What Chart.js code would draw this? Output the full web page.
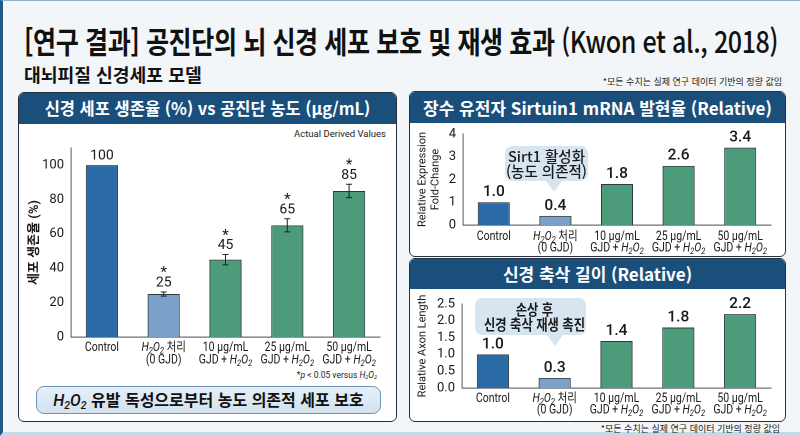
<!DOCTYPE html>
<html lang="ko">
<head>
<meta charset="utf-8">
<script src="https://cdn.jsdelivr.net/npm/chart.js@4.4.1/dist/chart.umd.min.js"></script>
<style>
  html, body { margin: 0; padding: 0; }
  body { width: 800px; height: 436px; overflow: hidden; font-family: Roboto, "Noto Sans CJK KR", sans-serif; }
  #page { position: relative; width: 800px; height: 436px; background: #f3f6f9; border-left: 3px solid #1f5a8a; border-top: 1px solid #8fb0cc; border-bottom: 4px solid #c6d9e8; box-sizing: border-box; }
  .abs { position: absolute; white-space: nowrap; }
  #title { left: 21px; top: 17px; font-family: "Noto Sans CJK KR", sans-serif; font-size: 30px; font-weight: 700; color: #111; transform-origin: left top; letter-spacing: -0.5px; }
  #title .lat { font-family: "Noto Sans CJK KR", sans-serif; font-weight: 500; }
  #subtitle { left: 21px; top: 60px; font-family: "Noto Sans CJK KR", sans-serif; font-size: 18px; font-weight: 700; color: #111; transform-origin: left top; }
  .note { font-family: "Noto Sans CJK KR", sans-serif; font-size: 9px; color: #222; }
  .panel { position: absolute; background: #fff; border: 1.5px solid #26313d; border-radius: 6px; box-sizing: border-box; overflow: hidden; }
  .head { position: absolute; left: 0; top: 0; right: 0; background: #1b4f7b; color: #fff; text-align: center; font-family: "Noto Sans CJK KR", sans-serif; font-weight: 700; }
  canvas { position: absolute; }
  .callout { position: absolute; background: #d7e5f1; border-radius: 7px; text-align: center; font-family: "Noto Sans CJK KR", sans-serif; font-weight: 500; font-size: 14.5px; line-height: 15px; color: #1a1a1a; white-space: nowrap; box-sizing: border-box; }
  .callout span { display: inline-block; transform: scaleX(var(--sq)); }
  .callout::after { content: ""; position: absolute; left: var(--tip); bottom: -11px; margin-left: -8px; border-left: 8px solid transparent; border-right: 8px solid transparent; border-top: 11px solid #d7e5f1; }
  #box { left: 33px; top: 385px; width: 345px; height: 28px; border: 1.5px solid #6b95bd; border-radius: 8px; box-sizing: border-box; background: linear-gradient(#e6eff7, #d3e2ef); text-align: center; font-family: "Noto Sans CJK KR", sans-serif; font-weight: 700; font-size: 16px; line-height: 25px; color: #111; }
  i { font-family: Roboto, sans-serif; }
  sub { font-size: 0.65em; vertical-align: -0.25em; }
</style>
</head>
<body>
<div id="page">
  <div id="title" class="abs">[연구 결과] 공진단의 뇌 신경 세포 보호 및 재생 효과 <span class="lat">(Kwon et al., 2018)</span></div>
  <div id="subtitle" class="abs">대뇌피질 신경세포 모델</div>
  <div class="abs note" style="right:18px; top:74px;">*모든 수치는 실제 연구 데이터 기반의 정량 값임</div>

  <div class="panel" style="left:15px; top:91px; width:379px; height:330px;">
    <div class="head" style="height:31px; line-height:31px; font-size:16.5px;">신경 세포 생존율 (%) vs 공진단 농도 (μg/mL)</div>
  </div>
  <div class="abs" style="right:414px; top:127px; font-size:9.5px; color:#222;">Actual Derived Values</div>
  <div class="abs" style="right:423px; top:369px; font-size:8.5px; color:#222;">*<i>p</i> &lt; 0.05 versus <i>H<sub>2</sub>O<sub>2</sub></i></div>
  <div id="box" class="abs"><i style="font-weight:500">H<sub>2</sub>O<sub>2</sub></i> 유발 독성으로부터 농도 의존적 세포 보호</div>

  <div class="panel" style="left:406px; top:90px; width:377px; height:166px;">
    <div class="head" style="height:31px; line-height:31px; font-size:17px;">장수 유전자 Sirtuin1 mRNA 발현율 (Relative)</div>
  </div>
  <div class="panel" style="left:406px; top:257px; width:377px; height:164px;">
    <div class="head" style="height:30px; line-height:30px; font-size:17px;">신경 축삭 길이 (Relative)</div>
  </div>
  <div class="abs note" style="right:20px; top:421px;">*모든 수치는 실제 연구 데이터 기반의 정량 값임</div>

  <canvas id="survival" style="left:15px; top:122px;"></canvas>
  <canvas id="sirt" style="left:404px; top:121px;"></canvas>
  <canvas id="axon" style="left:404px; top:287px;"></canvas>

  <div class="callout" style="left:502px; top:145px; width:83px; height:35px; padding-top:2px; --tip:49px; --sq:1;"><span>Sirt1 활성화<br>(농도 의존적)</span></div>
  <div class="callout" style="left:472px; top:297px; width:111px; height:37px; padding-top:3px; font-weight:700; --tip:80px; --sq:0.85;"><span>손상 후<br>신경 축삭 재생 촉진</span></div>
</div>

<script>
// categories (H2O2 gets drawn in italics with subscripts)
const groups = [
  ["Control"],
  ["H2O2 처리", "(0 GJD)"],
  ["10 μg/mL", "GJD + H2O2"],
  ["25 μg/mL", "GJD + H2O2"],
  ["50 μg/mL", "GJD + H2O2"]
];
const barColors = ["#2a6aa6", "#7aa0cb", "#4c9c7b", "#4c9c7b", "#4c9c7b"];

// cell survival (%)
const survival = [100, 25, 45, 65, 85];
const survivalErr = [0, 1.2, 3, 3.8, 3.9];
const survivalStar = [false, true, true, true, true];
const survivalTicks = [0, 20, 40, 60, 80, 100];

// Sirt1 mRNA fold-change
const sirt1 = [1.0, 0.4, 1.8, 2.6, 3.4];
// relative axon length
const axonLength = [1.0, 0.3, 1.4, 1.8, 2.2];

Chart.defaults.font.family = "Roboto, 'Noto Sans CJK KR', sans-serif";
Chart.defaults.color = "#1a1a1a";
Chart.defaults.devicePixelRatio = 2;

// fit the big headings to the widths in the reference
function fitWidth(id, w) {
  let el = document.getElementById(id);
  el.style.transform = "scaleX(" + (w / el.offsetWidth) + ")";
}
fitWidth("title", 754);
fitWidth("subtitle", 178);

function drawRich(ctx, text, x, y, size, squeeze) {
  // splits on H2O2 and draws it italic with subscripts, centered at x
  let parts = text.split("H2O2");
  let pieces = [];
  parts.forEach((p, i) => {
    if (p) pieces.push({ t: p, f: size + "px Roboto, 'Noto Sans CJK KR', sans-serif", dy: 0 });
    if (i < parts.length - 1) {
      let it = "italic " + size + "px Roboto, sans-serif";
      let sb = "italic " + Math.round(size * 0.7) + "px Roboto, sans-serif";
      pieces.push({ t: "H", f: it, dy: 0 }, { t: "2", f: sb, dy: 3 }, { t: "O", f: it, dy: 0 }, { t: "2", f: sb, dy: 3 });
    }
  });
  let total = 0;
  pieces.forEach(p => { ctx.font = p.f; p.w = ctx.measureText(p.t).width; total += p.w; });
  ctx.save();
  ctx.translate(x, y);
  ctx.scale(squeeze, 1);
  let cx = -total / 2;
  ctx.textAlign = "left";
  ctx.textBaseline = "middle";
  pieces.forEach(p => { ctx.font = p.f; ctx.fillText(p.t, cx, p.dy); cx += p.w; });
  ctx.restore();
}

const groupLabels = {
  id: "groupLabels",
  afterDraw(chart, args, opts) {
    let ctx = chart.ctx;
    let xs = chart.scales.x;
    let base = chart.chartArea.bottom;
    ctx.save();
    ctx.fillStyle = "#1a1a1a";
    groups.forEach((lines, i) => {
      let x = xs.getPixelForValue(i);
      lines.forEach((ln, j) => drawRich(ctx, ln, x, base + opts.first + j * opts.gap, 12.5, 0.84));
    });
    ctx.restore();
  }
};

const barValues = {
  id: "barValues",
  afterDatasetsDraw(chart, args, opts) {
    let ctx = chart.ctx;
    let meta = chart.getDatasetMeta(0);
    let ys = chart.scales.y;
    let vals = chart.data.datasets[0].data;
    ctx.save();
    ctx.textAlign = "center";
    ctx.textBaseline = "middle";
    ctx.fillStyle = "#1a1a1a";
    ctx.strokeStyle = "#222";
    ctx.lineWidth = 1;
    meta.data.forEach((bar, i) => {
      let top = bar.y;
      let err = opts.err ? opts.err[i] : 0;
      if (err) {
        let hi = ys.getPixelForValue(vals[i] + err);
        let lo = ys.getPixelForValue(vals[i] - err);
        ctx.beginPath();
        ctx.moveTo(bar.x, hi); ctx.lineTo(bar.x, lo);
        ctx.moveTo(bar.x - 3, hi); ctx.lineTo(bar.x + 3, hi);
        ctx.moveTo(bar.x - 3, lo); ctx.lineTo(bar.x + 3, lo);
        ctx.stroke();
        top = hi;
      }
      ctx.font = opts.weight + " " + opts.size + "px Roboto, sans-serif";
      let label = opts.decimals ? vals[i].toFixed(opts.decimals) : String(vals[i]);
      ctx.fillText(label, bar.x, top - opts.lift);
      if (opts.star && opts.star[i]) {
        ctx.font = "15px Roboto, sans-serif";
        ctx.fillText("*", bar.x, top - opts.lift - 10);
      }
    });
    ctx.restore();
  }
};

function makeChart(id, w, h, values, pad, yOpts, plug) {
  let cv = document.getElementById(id);
  cv.width = w; cv.height = h;
  cv.style.width = w + "px"; cv.style.height = h + "px";
  return new Chart(cv, {
    type: "bar",
    data: {
      labels: groups.map(g => g.join(" ")),
      datasets: [{
        data: values,
        backgroundColor: barColors,
        borderColor: "#2c3a3c",
        borderWidth: 1,
        barPercentage: 0.52,
        categoryPercentage: 1
      }]
    },
    options: {
      responsive: false,
      animation: false,
      layout: { padding: pad },
      plugins: {
        legend: { display: false },
        tooltip: { enabled: false },
        groupLabels: plug.labels,
        barValues: plug.values
      },
      scales: {
        x: {
          grid: { display: false, drawTicks: false },
          border: { color: "#6d7378", width: 1.2 },
          ticks: { display: false },
          afterFit: s => { s.height = 0; }
        },
        y: Object.assign({
          beginAtZero: true,
          grid: { display: false, drawTicks: true, tickLength: 4, tickColor: "#555" },
          border: { color: "#6d7378", width: 1.2 },
          afterFit: s => { s.width = yOpts.width; }
        }, yOpts.scale)
      }
    },
    plugins: [groupLabels, barValues]
  });
}

// cell survival chart
makeChart("survival", 378, 250, survival,
  { top: 25, right: 16, bottom: 36, left: 3 },
  {
    width: 50,
    scale: {
      min: 0, max: 110,
      afterBuildTicks: s => { s.ticks = survivalTicks.map(v => ({ value: v })); },
      ticks: { font: { size: 13 }, color: "#1a1a1a", padding: 3 },
      title: { display: true, text: "세포 생존율 (%)", font: { size: 13, weight: "bold" }, color: "#1a1a1a", padding: { top: 6, bottom: 0 } }
    }
  },
  {
    labels: { first: 11, gap: 12.5 },
    values: { err: survivalErr, star: survivalStar, size: 14, weight: "normal", lift: 9 }
  });

// Sirt1 chart
makeChart("sirt", 378, 134, sirt1,
  { top: 12, right: 14, bottom: 31, left: 3 },
  {
    width: 53,
    scale: {
      min: 0, max: 4,
      ticks: { stepSize: 1, font: { size: 13 }, color: "#1a1a1a", padding: 3 },
      title: { display: true, text: ["Relative Expression", "Fold-Change"], font: { size: 11 }, color: "#1a1a1a", padding: { top: 6, bottom: 0 } }
    }
  },
  {
    labels: { first: 12, gap: 11.5 },
    values: { size: 15.5, weight: "500", lift: 10, decimals: 1 }
  });

// axon length chart
makeChart("axon", 378, 133, axonLength,
  { top: 16, right: 14, bottom: 33, left: 3 },
  {
    width: 52,
    scale: {
      min: 0, max: 2.5,
      ticks: { stepSize: 0.5, autoSkip: false, font: { size: 13 }, color: "#1a1a1a", padding: 3, callback: v => v.toFixed(1) },
      title: { display: true, text: "Relative Axon Length", font: { size: 11 }, color: "#1a1a1a", padding: { top: 6, bottom: 0 } }
    }
  },
  {
    labels: { first: 11, gap: 11.5 },
    values: { size: 15.5, weight: "500", lift: 10, decimals: 1 }
  });
</script>
</body>
</html>
